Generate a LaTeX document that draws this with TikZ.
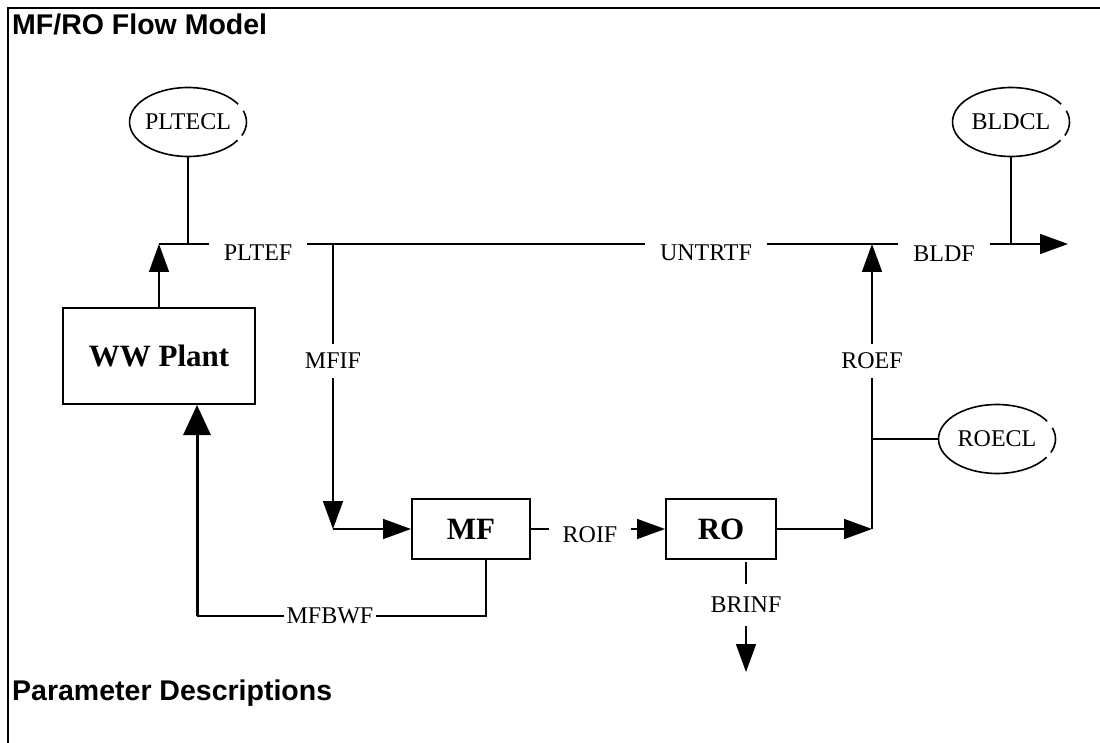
\documentclass[tikz,border=0pt]{standalone}
\usepackage{fontspec}
\setmainfont{Liberation Serif}
\setsansfont{Liberation Sans}
\usetikzlibrary{arrows.meta,shapes.geometric}

\tikzset{
  flow/.style={line width=1.6pt},
  flowarrow/.style={line width=1.6pt,-{Triangle[length=28pt,width=20pt]}},
  backarrow/.style={line width=3pt,-{Triangle[length=30pt,width=27pt]}},
  unitbox/.style={draw,line width=2pt,rectangle,inner sep=0pt,
    font=\bfseries\fontsize{31}{31}\selectfont},
  conc/.style={ellipse,inner sep=0pt,outer sep=0pt,
    minimum width=117pt,minimum height=69pt,font=\fontsize{24}{24}\selectfont},
  rim/.style={line width=1.6pt,x radius=58.5pt,y radius=34.5pt},
  flowlabel/.style={inner xsep=15pt,inner ysep=9pt,font=\fontsize{24}{24}\selectfont},
  heading/.style={inner sep=0pt,anchor=base west,
    font=\sffamily\bfseries\fontsize{28.5}{30}\selectfont}
}

\begin{document}
\begin{tikzpicture}[x=1pt,y=-1pt]
\useasboundingbox (0,0) rectangle (1100,743);

% page frame
\draw[line width=2.5pt] (1100,8) -- (8,8) -- (8,743);

% headings
\node[heading] (title) at (12,35) {MF/RO Flow Model};
\node[heading] (params) at (12,700) {Parameter Descriptions};

% process units
\node[unitbox,minimum width=192pt,minimum height=96pt] (plant) at (159,356) {WW Plant};
\node[unitbox,minimum width=118pt,minimum height=60pt] (mf) at (471,529) {MF};
\node[unitbox,minimum width=110pt,minimum height=60pt] (ro) at (721,529) {RO};

% concentrations (outline drawn as arcs, broken on the right side)
\node[conc] (pltecl) at (188,122) {PLTECL};
\node[conc] (bldcl) at (1011,122) {BLDCL};
\node[conc] (roecl) at (997,439) {ROECL};
\foreach \c in {pltecl,bldcl,roecl}{
  \draw[rim] ([shift={(31:58.5pt and 34.5pt)}]\c.center) arc[start angle=31,end angle=328]
             ([shift={(-23:58.5pt and 34.5pt)}]\c.center) arc[start angle=-23,end angle=19];
}

% flow labels
\node[flowlabel] (pltef) at (258,253) {PLTEF};
\node[flowlabel] (untrtf) at (706,253) {UNTRTF};
\node[flowlabel] (bldf) at (944,254) {BLDF};
\node[flowlabel] (mfif) at (333,361) {MFIF};
\node[flowlabel] (roef) at (872,361) {ROEF};
\node[flowlabel,inner xsep=13pt] (roif) at (590,535) {ROIF};
\node[flowlabel,inner ysep=13pt] (brinf) at (746,605) {BRINF};
\node[flowlabel,inner xsep=2pt] (mfbwf) at (330,616) {MFBWF};

% junction points
\coordinate (j1) at (159,244);
\coordinate (j2) at (333,244);
\coordinate (j3) at (333,529);
\coordinate (j4) at (872,529);
\coordinate (j5) at (872,244);
\coordinate (outlet) at (1068,244);
\coordinate (brtop) at (746,562);
\coordinate (brout) at (746,672);
\coordinate (mfb) at (486,616);
\coordinate (ret) at (197,616);

% plant effluent and main line
\draw[flowarrow] (plant.north) -- (j1);
\draw[flow] (j1) -- (j1 -| pltef.west);
\draw[flow] (pltef.east |- j1) -- (untrtf.west |- j1);
\draw[flow] (untrtf.east |- j1) -- (bldf.west |- j1);
\draw[flowarrow] (bldf.east |- j1) -- (outlet);
\draw[flow] (pltecl.south) -- (pltecl.south |- j1);
\draw[flow] (bldcl.south) -- (bldcl.south |- j1);

% MF feed
\draw[flow] (j2) -- (mfif.north);
\draw[flowarrow] (mfif.south) -- (j3);
\draw[flowarrow] (j3) -- (mf.west);

% MF to RO
\draw[flow] (mf.east) -- (roif.west |- mf.east);
\draw[flowarrow] (roif.east |- mf.east) -- (ro.west);

% RO effluent
\draw[flowarrow] (ro.east) -- (j4);
\draw[flow] (j4) -- (roef.south);
\draw[flowarrow] (roef.north) -- (j5);
\draw[flow] (roecl.west -| j4) -- (roecl.west);

% brine
\draw[flow] (brtop) -- (brinf.north);
\draw[flowarrow] (brinf.south) -- (brout);

% MF backwash return
\draw[flow] (mfb |- mf.south) -- (mfb) -- (mfbwf.east |- mfb);
\draw[flow] (mfbwf.west |- mfb) -- (ret);
\draw[backarrow] (ret) -- (ret |- plant.south);
\end{tikzpicture}
\end{document}
